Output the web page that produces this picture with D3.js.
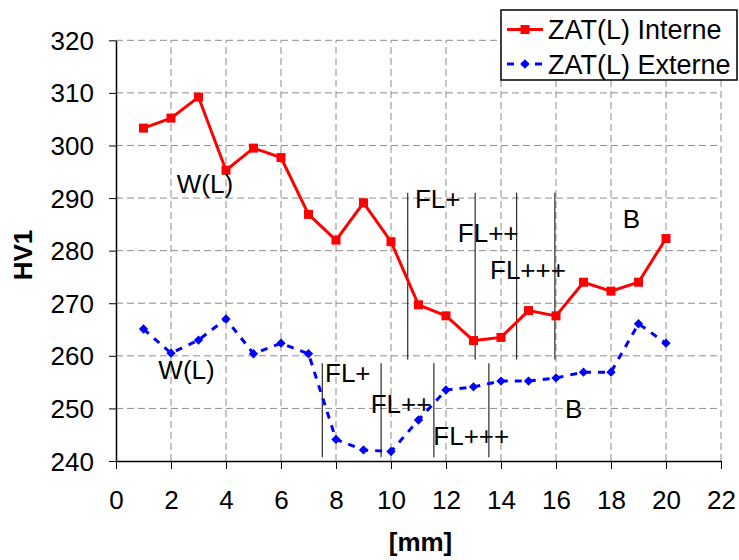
<!DOCTYPE html>
<html>
<head>
<meta charset="utf-8">
<script src="https://cdn.jsdelivr.net/npm/d3@7"></script>
<style>
  html, body { margin: 0; padding: 0; background: #fff; }
  svg { display: block; font-family: "Liberation Sans", Arial, sans-serif; }
</style>
</head>
<body>
<script>
// ---- data ----
const positions = [1,2,3,4,5,6,7,8,9,10,11,12,13,14,15,16,17,18,19,20];
const interne = [303.3,305.2,309.2,295.3,299.5,297.7,286.9,282.0,289.1,281.7,269.7,267.6,262.9,263.5,268.6,267.6,274.0,272.3,274.0,282.3];
const externe = [265.1,260.5,263.0,267.0,260.4,262.4,260.4,244.1,242.1,241.8,247.8,253.5,254.1,255.2,255.2,255.8,256.9,256.9,266.1,262.4];
const seriesNames = ["ZAT(L) Interne", "ZAT(L) Externe"];
const xTicks = [0,2,4,6,8,10,12,14,16,18,20,22];
const yTicks = [240,250,260,270,280,290,300,310,320];
// zone boundaries (mm) and their vertical extents (HV1)
const upperBounds = [10.61, 13.06, 14.57, 15.96];
const upperRange = [259.3, 291.0];
const lowerBounds = [7.5, 9.64, 11.56, 13.56];
const lowerRange = [240.7, 258.6];
// zone labels: text, mm, HV1 (baseline)
const zoneLabels = [
  ["W(L)", 2.21, 290.9], ["FL+", 10.87, 288.1], ["FL++", 12.43, 281.7], ["FL+++", 13.6, 274.55], ["B", 18.43, 284.4],
  ["W(L)", 1.54, 255.5], ["FL+", 7.6, 255.1], ["FL++", 9.26, 249.1], ["FL+++", 11.54, 243.05], ["B", 16.33, 248.1]
];

// ---- layout ----
const W = 739, H = 560;
const x = d3.scaleLinear().domain([0, 22]).range([116, 721]);
const y = d3.scaleLinear().domain([240, 320]).range([461, 40.3]);

const svg = d3.select("body").append("svg").attr("width", W).attr("height", H);
svg.append("rect").attr("width", W).attr("height", H).attr("fill", "#fff");

// grid
const grid = svg.append("g").attr("stroke", "#8c8c8c").attr("stroke-width", 1).attr("stroke-dasharray", "7,4");
grid.selectAll("line.h").data(yTicks.filter(v => v > 240)).join("line")
  .attr("x1", x(0)).attr("x2", x(22)).attr("y1", d => y(d)).attr("y2", d => y(d));
grid.selectAll("line.v").data(xTicks.filter(v => v > 0)).join("line")
  .attr("y1", y(240)).attr("y2", y(320)).attr("x1", d => x(d)).attr("x2", d => x(d));

// axes
const xAxis = svg.append("g").attr("transform", `translate(0,${y(240)})`)
  .call(d3.axisBottom(x).tickValues(xTicks).tickSize(8).tickSizeOuter(0));
xAxis.select(".domain").attr("stroke", "#000").attr("stroke-width", 1.5);
xAxis.selectAll(".tick line").attr("stroke", "#000");
xAxis.selectAll(".tick text").attr("y", 48).attr("dy", 0).attr("font-size", 26).attr("fill", "#000")
  .attr("font-family", "Liberation Sans, Arial, sans-serif");

const yAxis = svg.append("g").attr("transform", `translate(${x(0)},0)`)
  .call(d3.axisLeft(y).tickValues(yTicks).tickSize(7).tickSizeOuter(0));
yAxis.select(".domain").attr("stroke", "#000").attr("stroke-width", 1.5);
yAxis.selectAll(".tick line").attr("stroke", "#000");
yAxis.selectAll(".tick text").attr("x", -22).attr("dy", "0.35em").attr("font-size", 26).attr("fill", "#000")
  .attr("font-family", "Liberation Sans, Arial, sans-serif");

// axis titles
svg.append("text").attr("x", 420.5).attr("y", 551).attr("text-anchor", "middle")
  .attr("font-size", 26).attr("font-weight", "bold").text("[mm]");
svg.append("text").attr("transform", `translate(31.5,255) rotate(-90)`).attr("text-anchor", "middle")
  .attr("font-size", 26).attr("font-weight", "bold").text("HV1");

// zone boundary lines
const bounds = svg.append("g").attr("stroke", "#000").attr("stroke-width", 1);
bounds.selectAll("line.u").data(upperBounds).join("line")
  .attr("x1", d => x(d)).attr("x2", d => x(d)).attr("y1", y(upperRange[0])).attr("y2", y(upperRange[1]));
bounds.selectAll("line.l").data(lowerBounds).join("line")
  .attr("x1", d => x(d)).attr("x2", d => x(d)).attr("y1", y(lowerRange[0])).attr("y2", y(lowerRange[1]));

// series lines
const lineGen = vals => d3.line().x((d, i) => x(positions[i])).y(d => y(d))(vals);
svg.append("path").attr("d", lineGen(externe)).attr("fill", "none")
  .attr("stroke", "#0000ff").attr("stroke-width", 3).attr("stroke-dasharray", "7,7");
svg.append("path").attr("d", lineGen(interne)).attr("fill", "none")
  .attr("stroke", "#ff0000").attr("stroke-width", 3);

// markers
const sq = 9, dm = 6.6;
svg.append("g").selectAll("rect").data(interne).join("rect")
  .attr("x", (d, i) => x(positions[i]) - sq / 2).attr("y", d => y(d) - sq / 2)
  .attr("width", sq).attr("height", sq).attr("fill", "#ff0000");
svg.append("g").selectAll("rect").data(externe).join("rect")
  .attr("x", -dm / 2).attr("y", -dm / 2).attr("width", dm).attr("height", dm)
  .attr("transform", (d, i) => `translate(${x(positions[i])},${y(d)}) rotate(45)`)
  .attr("fill", "#0000ff");

// zone labels
svg.append("g").selectAll("text").data(zoneLabels).join("text")
  .attr("x", d => x(d[1])).attr("y", d => y(d[2]))
  .attr("font-size", 26).attr("fill", "#000").text(d => d[0]);

// legend
const lg = svg.append("g");
lg.append("rect").attr("x", 501).attr("y", 10).attr("width", 236).attr("height", 70)
  .attr("fill", "#fff").attr("stroke", "#000").attr("stroke-width", 1.5);
lg.append("line").attr("x1", 507).attr("x2", 543).attr("y1", 29.5).attr("y2", 29.5)
  .attr("stroke", "#ff0000").attr("stroke-width", 3);
lg.append("rect").attr("x", 525 - sq / 2).attr("y", 29.5 - sq / 2).attr("width", sq).attr("height", sq).attr("fill", "#ff0000");
lg.append("line").attr("x1", 507).attr("x2", 543).attr("y1", 64).attr("y2", 64)
  .attr("stroke", "#0000ff").attr("stroke-width", 3).attr("stroke-dasharray", "7,7");
lg.append("rect").attr("x", -dm / 2).attr("y", -dm / 2).attr("width", dm).attr("height", dm)
  .attr("transform", "translate(525,64) rotate(45)").attr("fill", "#0000ff");
lg.selectAll("text").data(seriesNames).join("text")
  .attr("x", 548).attr("y", (d, i) => 38.5 + i * 35.5).attr("font-size", 27).attr("fill", "#000").text(d => d);
</script>
</body>
</html>
